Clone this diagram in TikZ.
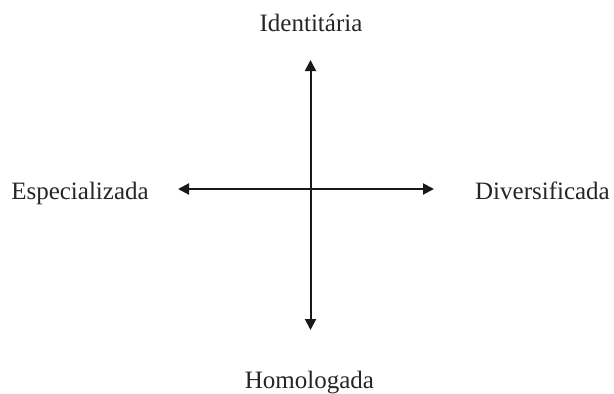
\documentclass[tikz,border=0pt]{standalone}
\usepackage{fontspec}
\setmainfont{Liberation Serif}
\usetikzlibrary{arrows.meta}
\begin{document}
\begin{tikzpicture}[x=1pt,y=-1pt,
  axis/.style={line width=2pt, color=black!90, {Triangle[length=11pt,width=11pt]}-{Triangle[length=11pt,width=11pt]}},
  lbl/.style={anchor=base, inner sep=0pt, font=\fontsize{25}{30}\selectfont, text=black!85}]
\useasboundingbox (0,0) rectangle (614,394);
\coordinate (top) at (310.5,60);
\coordinate (bot) at (310.5,330);
\coordinate (left) at (178,189);
\coordinate (right) at (434,189);
\node[lbl] (ident) at (311,31.5) {Identitária};
\node[lbl] (espec) at (80,199) {Especializada};
\node[lbl] (diver) at (542.5,199) {Diversificada};
\node[lbl] (homol) at (309.5,388.5) {Homologada};
\draw[axis] (bot) -- (top);
\draw[axis] (left) -- (right);
\end{tikzpicture}
\end{document}
